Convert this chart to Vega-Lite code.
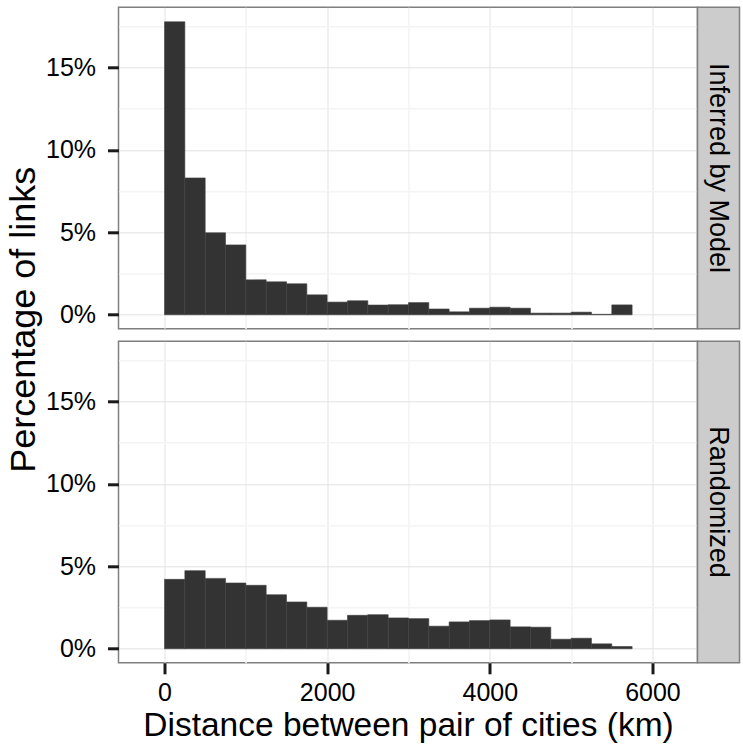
{
  "$schema": "https://vega.github.io/schema/vega-lite/v6.json",
  "padding": {"left": 4.5, "top": 6.3, "right": 6, "bottom": 5},
  "bounds": "flush",
  "columns": 2,
  "spacing": {"row": 12, "column": 0},
  "config": {
    "font": "Liberation Sans",
    "view": {"stroke": "#7F7F7F", "strokeWidth": 1.5},
    "axis": {
      "domain": false,
      "labelColor": "#000000",
      "labelFontSize": 25,
      "tickColor": "#1a1a1a",
      "tickWidth": 3,
      "tickSize": 11,
      "titleColor": "#000000",
      "titleFontWeight": "normal"
    }
  },
  "datasets": {
    "bins": [
      {"panel": "Inferred by Model", "lo": 0, "hi": 250, "pct": 17.77},
      {"panel": "Inferred by Model", "lo": 250, "hi": 500, "pct": 8.30},
      {"panel": "Inferred by Model", "lo": 500, "hi": 750, "pct": 4.97},
      {"panel": "Inferred by Model", "lo": 750, "hi": 1000, "pct": 4.24},
      {"panel": "Inferred by Model", "lo": 1000, "hi": 1250, "pct": 2.12},
      {"panel": "Inferred by Model", "lo": 1250, "hi": 1500, "pct": 2.00},
      {"panel": "Inferred by Model", "lo": 1500, "hi": 1750, "pct": 1.88},
      {"panel": "Inferred by Model", "lo": 1750, "hi": 2000, "pct": 1.21},
      {"panel": "Inferred by Model", "lo": 2000, "hi": 2250, "pct": 0.77},
      {"panel": "Inferred by Model", "lo": 2250, "hi": 2500, "pct": 0.85},
      {"panel": "Inferred by Model", "lo": 2500, "hi": 2750, "pct": 0.59},
      {"panel": "Inferred by Model", "lo": 2750, "hi": 3000, "pct": 0.61},
      {"panel": "Inferred by Model", "lo": 3000, "hi": 3250, "pct": 0.74},
      {"panel": "Inferred by Model", "lo": 3250, "hi": 3500, "pct": 0.35},
      {"panel": "Inferred by Model", "lo": 3500, "hi": 3750, "pct": 0.18},
      {"panel": "Inferred by Model", "lo": 3750, "hi": 4000, "pct": 0.40},
      {"panel": "Inferred by Model", "lo": 4000, "hi": 4250, "pct": 0.46},
      {"panel": "Inferred by Model", "lo": 4250, "hi": 4500, "pct": 0.40},
      {"panel": "Inferred by Model", "lo": 4500, "hi": 4750, "pct": 0.10},
      {"panel": "Inferred by Model", "lo": 4750, "hi": 5000, "pct": 0.10},
      {"panel": "Inferred by Model", "lo": 5000, "hi": 5250, "pct": 0.16},
      {"panel": "Inferred by Model", "lo": 5250, "hi": 5500, "pct": 0.03},
      {"panel": "Inferred by Model", "lo": 5500, "hi": 5750, "pct": 0.60},
      {"panel": "Randomized", "lo": 0, "hi": 250, "pct": 4.21},
      {"panel": "Randomized", "lo": 250, "hi": 500, "pct": 4.74},
      {"panel": "Randomized", "lo": 500, "hi": 750, "pct": 4.27},
      {"panel": "Randomized", "lo": 750, "hi": 1000, "pct": 3.99},
      {"panel": "Randomized", "lo": 1000, "hi": 1250, "pct": 3.85},
      {"panel": "Randomized", "lo": 1250, "hi": 1500, "pct": 3.28},
      {"panel": "Randomized", "lo": 1500, "hi": 1750, "pct": 2.84},
      {"panel": "Randomized", "lo": 1750, "hi": 2000, "pct": 2.52},
      {"panel": "Randomized", "lo": 2000, "hi": 2250, "pct": 1.73},
      {"panel": "Randomized", "lo": 2250, "hi": 2500, "pct": 2.03},
      {"panel": "Randomized", "lo": 2500, "hi": 2750, "pct": 2.07},
      {"panel": "Randomized", "lo": 2750, "hi": 3000, "pct": 1.87},
      {"panel": "Randomized", "lo": 3000, "hi": 3250, "pct": 1.83},
      {"panel": "Randomized", "lo": 3250, "hi": 3500, "pct": 1.37},
      {"panel": "Randomized", "lo": 3500, "hi": 3750, "pct": 1.63},
      {"panel": "Randomized", "lo": 3750, "hi": 4000, "pct": 1.71},
      {"panel": "Randomized", "lo": 4000, "hi": 4250, "pct": 1.75},
      {"panel": "Randomized", "lo": 4250, "hi": 4500, "pct": 1.33},
      {"panel": "Randomized", "lo": 4500, "hi": 4750, "pct": 1.31},
      {"panel": "Randomized", "lo": 4750, "hi": 5000, "pct": 0.58},
      {"panel": "Randomized", "lo": 5000, "hi": 5250, "pct": 0.64},
      {"panel": "Randomized", "lo": 5250, "hi": 5500, "pct": 0.30},
      {"panel": "Randomized", "lo": 5500, "hi": 5750, "pct": 0.14}
    ]
  },
  "concat": [
    {
      "width": 579,
      "height": 321.5,
      "data": {"name": "bins"},
      "transform": [{"filter": "datum.panel === 'Inferred by Model'"}],
      "mark": {"type": "bar", "fill": "#333333", "stroke": "#404040", "strokeWidth": 0.6},
      "encoding": {
        "x": {
          "field": "lo", "type": "quantitative",
          "scale": {"domain": [-566, 6554], "nice": false, "zero": false},
          "axis": {
            "values": [0, 1000, 2000, 3000, 4000, 5000, 6000],
            "labels": false, "ticks": false, "title": null,
            "gridColor": {"condition": {"test": "datum.value % 2000 === 0", "value": "#E3E3E3"}, "value": "#F4F4F4"},
            "gridWidth": {"condition": {"test": "datum.value % 2000 === 0", "value": 1}, "value": 1.6}
          }
        },
        "x2": {"field": "hi"},
        "y": {
          "field": "pct", "type": "quantitative",
          "scale": {"domain": [-0.85, 18.65], "nice": false, "zero": false},
          "axis": {
            "values": [0, 2.5, 5, 7.5, 10, 12.5, 15, 17.5],
            "title": null,
            "labelPadding": 12,
            "labelExpr": "datum.value % 5 === 0 ? datum.value + '%' : ''",
            "tickOpacity": {"condition": {"test": "datum.value % 5 === 0", "value": 1}, "value": 0},
            "gridColor": {"condition": {"test": "datum.value % 5 === 0", "value": "#E3E3E3"}, "value": "#F4F4F4"},
            "gridWidth": {"condition": {"test": "datum.value % 5 === 0", "value": 1}, "value": 1.6}
          }
        },
        "y2": {"datum": 0}
      }
    },
    {
      "width": 42,
      "height": 321.5,
      "view": {"fill": "#CCCCCC", "stroke": "#7F7F7F", "strokeWidth": 1.5},
      "data": {"values": [{"label": "Inferred by Model"}]},
      "mark": {"type": "text", "angle": 90, "fontSize": 27, "color": "#000000", "align": "center", "baseline": "middle"},
      "encoding": {"text": {"field": "label", "type": "nominal"}}
    },
    {
      "width": 579,
      "height": 321.5,
      "data": {"name": "bins"},
      "transform": [{"filter": "datum.panel === 'Randomized'"}],
      "mark": {"type": "bar", "fill": "#333333", "stroke": "#404040", "strokeWidth": 0.6},
      "encoding": {
        "x": {
          "field": "lo", "type": "quantitative",
          "scale": {"domain": [-566, 6554], "nice": false, "zero": false},
          "axis": {
            "values": [0, 1000, 2000, 3000, 4000, 5000, 6000],
            "title": "Distance between pair of cities (km)",
            "titleFontSize": 33.5,
            "titlePadding": 4,
            "labelPadding": 7,
            "labelExpr": "datum.value % 2000 === 0 ? format(datum.value, 'd') : ''",
            "tickOpacity": {"condition": {"test": "datum.value % 2000 === 0", "value": 1}, "value": 0},
            "gridColor": {"condition": {"test": "datum.value % 2000 === 0", "value": "#E3E3E3"}, "value": "#F4F4F4"},
            "gridWidth": {"condition": {"test": "datum.value % 2000 === 0", "value": 1}, "value": 1.6}
          }
        },
        "x2": {"field": "hi"},
        "y": {
          "field": "pct", "type": "quantitative",
          "scale": {"domain": [-0.85, 18.65], "nice": false, "zero": false},
          "axis": {
            "values": [0, 2.5, 5, 7.5, 10, 12.5, 15, 17.5],
            "title": "Percentage of links",
            "titleFontSize": 36,
            "titleAngle": -90,
            "titleX": -95,
            "titleY": -22,
            "titleAlign": "center",
            "titleBaseline": "middle",
            "labelPadding": 12,
            "labelExpr": "datum.value % 5 === 0 ? datum.value + '%' : ''",
            "tickOpacity": {"condition": {"test": "datum.value % 5 === 0", "value": 1}, "value": 0},
            "gridColor": {"condition": {"test": "datum.value % 5 === 0", "value": "#E3E3E3"}, "value": "#F4F4F4"},
            "gridWidth": {"condition": {"test": "datum.value % 5 === 0", "value": 1}, "value": 1.6}
          }
        },
        "y2": {"datum": 0}
      }
    },
    {
      "width": 42,
      "height": 321.5,
      "view": {"fill": "#CCCCCC", "stroke": "#7F7F7F", "strokeWidth": 1.5},
      "data": {"values": [{"label": "Randomized"}]},
      "mark": {"type": "text", "angle": 90, "fontSize": 27, "color": "#000000", "align": "center", "baseline": "middle"},
      "encoding": {"text": {"field": "label", "type": "nominal"}}
    }
  ]
}
